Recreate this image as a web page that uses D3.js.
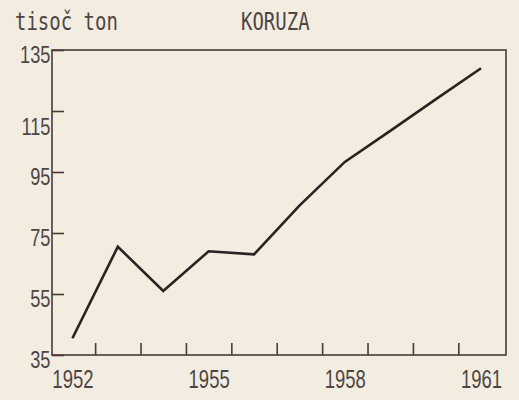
<!DOCTYPE html>
<html>
<head>
<meta charset="utf-8">
<script src="https://cdn.jsdelivr.net/npm/d3@7"></script>
<style>
  body { margin: 0; background: #f3ece1; }
  svg { display: block; }
  .domain { display: none; }
</style>
</head>
<body>
<div id="chart"></div>
<script>
// corn production, thousand tons
const years = [1952, 1953, 1954, 1955, 1956, 1957, 1958, 1959, 1960, 1961];
const values = [40.5, 70.5, 56, 69, 68, 84, 98.3, 108.5, 118.8, 129];
const yTicks = [35, 55, 75, 95, 115, 135];
const xLabels = [1952, 1955, 1958, 1961];
const xTicks = [1952.5, 1953.5, 1954.5, 1955.5, 1956.5, 1957.5, 1958.5, 1959.5, 1960.5];

const width = 519, height = 400;
const margin = { top: 50, right: 13, bottom: 45, left: 52 };
const ink = "#4a3a36";
const textCol = "#4e4644";
const numFont = "'Liberation Sans', Arial, sans-serif";

const svg = d3.select("#chart").append("svg")
    .attr("width", width)
    .attr("height", height);

const x = d3.scaleLinear().domain([1951.55, 1961.55]).range([margin.left, width - margin.right]);
const y = d3.scaleLinear().domain([35, 135]).range([height - margin.bottom, margin.top]);

// frame
svg.append("rect")
    .attr("x", x.range()[0])
    .attr("y", y.range()[1])
    .attr("width", x.range()[1] - x.range()[0])
    .attr("height", y.range()[0] - y.range()[1])
    .attr("fill", "none")
    .attr("stroke", ink)
    .attr("stroke-width", 1.6);

// y axis: inward ticks + labels (narrow, tall digits)
const yAxis = svg.append("g")
    .attr("transform", `translate(${margin.left},0)`)
    .call(d3.axisLeft(y).tickValues(yTicks).tickSizeInner(-12).tickSizeOuter(0).tickPadding(2));
yAxis.selectAll("line").attr("stroke", ink).attr("stroke-width", 1.6);
yAxis.selectAll("text")
    .attr("font-family", numFont)
    .attr("font-size", 24)
    .attr("fill", textCol)
    .attr("dy", d => d === 115 ? 24 : 12)
    .attr("transform", "scale(0.76,1)");

// x axis ticks (between years, pointing up)
const xTickAxis = svg.append("g")
    .attr("transform", `translate(0,${height - margin.bottom})`)
    .call(d3.axisBottom(x).tickValues(xTicks).tickSizeInner(-12).tickSizeOuter(0).tickFormat(""));
xTickAxis.selectAll("line").attr("stroke", ink).attr("stroke-width", 1.6);

// x axis labels, centred under the years
const xLabelAxis = svg.append("g")
    .attr("transform", `translate(0,${height - margin.bottom})`)
    .call(d3.axisBottom(x).tickValues(xLabels).tickSize(0).tickPadding(0).tickFormat(d3.format("d")));
xLabelAxis.selectAll("text")
    .attr("font-family", numFont)
    .attr("font-size", 25)
    .attr("fill", textCol)
    .attr("dy", 33)
    .attr("transform", "scale(0.74,1)");

// data line
const line = d3.line()
    .x((d, i) => x(years[i]))
    .y(d => y(d));

svg.append("path")
    .datum(values)
    .attr("d", line)
    .attr("fill", "none")
    .attr("stroke", "#2a2322")
    .attr("stroke-width", 2.6)
    .attr("stroke-linejoin", "miter");

// titles (tall monospace lettering)
const titles = [
    { text: "tisoč ton", x: 15 },
    { text: "KORUZA", x: 241 }
];
svg.selectAll(".title")
    .data(titles)
    .enter()
    .append("text")
    .attr("class", "title")
    .attr("transform", d => `translate(${d.x},30) scale(1,1.3)`)
    .attr("font-family", "'DejaVu Sans Mono', monospace")
    .attr("font-size", 19)
    .attr("fill", textCol)
    .text(d => d.text);
</script>
</body>
</html>
